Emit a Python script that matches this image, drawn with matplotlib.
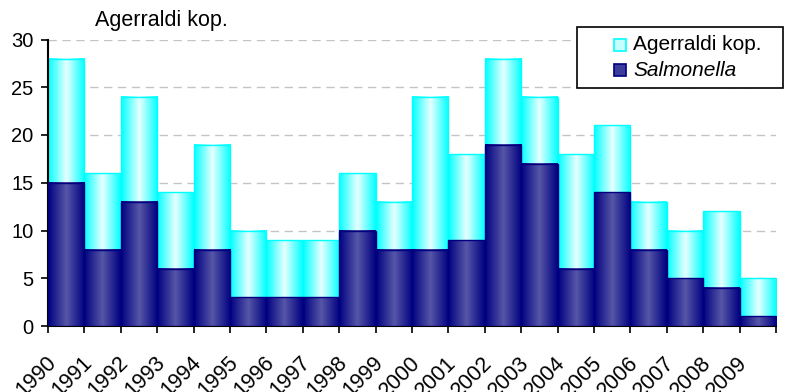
import numpy as np
import matplotlib
matplotlib.use("Agg")
import matplotlib.pyplot as plt
from matplotlib.colors import LinearSegmentedColormap
from matplotlib.patches import Rectangle
from matplotlib.transforms import ScaledTranslation

years = [str(y) for y in range(1990, 2010)]
total_cases = [28, 16, 24, 14, 19, 10, 9, 9, 16, 13, 24, 18, 28, 24, 18, 21, 13, 10, 12, 5]
salmonella = [15, 8, 13, 6, 8, 3, 3, 3, 10, 8, 8, 9, 19, 17, 6, 14, 8, 5, 4, 1]
yticks = [0, 5, 10, 15, 20, 25, 30]
series_names = ["Agerraldi kop.", "Salmonella"]

plt.rcParams['font.family'] = ['Liberation Sans', 'DejaVu Sans']

W, H = 785, 392
fig = plt.figure(figsize=(W / 100, H / 100), dpi=100)
ax = fig.add_axes([48 / W, 1 - 326 / H, (776 - 48) / W, (326 - 39.5) / H])

n = len(years)
x = np.arange(n)
width = 1.0


def gradient_cmap(edge, centre):
    return LinearSegmentedColormap.from_list("g", [edge, centre, edge])


cyan_cmap = gradient_cmap("#00FFFF", "#E6FFFF")
navy_cmap = gradient_cmap("#000080", "#5656A8")
ramp = np.linspace(0, 1, 256).reshape(1, -1)


def draw_bars(values, cmap, edge, z):
    for xi, v in zip(x, values):
        x0, x1 = xi - width / 2, xi + width / 2
        ax.imshow(ramp, extent=[x0, x1, 0, v], cmap=cmap, aspect="auto",
                  origin="lower", zorder=z, interpolation="bilinear")
    ax.bar(x, values, width=width, fill=False, edgecolor=edge,
           linewidth=1.0, zorder=z + 0.1)


draw_bars(total_cases, cyan_cmap, "#00FFFF", 2)
draw_bars(salmonella, navy_cmap, "#000080", 3)

ax.set_xlim(-0.5, n - 0.5)
ax.set_ylim(0, 30)
ax.set_yticks(yticks)
ax.yaxis.grid(True, linestyle=(0, (6, 4)), color="#C4C4C4", linewidth=1.0, zorder=0)
ax.set_axisbelow(True)

ax.set_xticks(x)
ax.set_xticklabels(years, rotation=45, ha="right", va="top", fontsize=15.5)
ax.set_xticks(np.arange(n + 1) - 0.5, minor=True)
ax.tick_params(axis="x", which="major", length=0, pad=19)
ax.tick_params(axis="x", which="minor", length=5, width=1.2, direction="out")
ax.tick_params(axis="y", length=5, width=1.2, labelsize=14.5, pad=5.5)
shift = ScaledTranslation(-6 / 100, 0, fig.dpi_scale_trans)
for lab in ax.get_xticklabels():
    lab.set_transform(lab.get_transform() + shift)

for s in ["top", "right"]:
    ax.spines[s].set_visible(False)
for s in ["left", "bottom"]:
    ax.spines[s].set_linewidth(1.5)

fig.text(95 / W, 1 - 20.5 / H, "Agerraldi kop.", fontsize=15.5, va="center", ha="left")

# legend box drawn in figure pixel coordinates
px = lambda v: v / W
py = lambda v: 1 - v / H
fig.patches.append(Rectangle((px(577), py(88)), px(783) - px(577), py(27) - py(88),
                             transform=fig.transFigure, facecolor="white",
                             edgecolor="black", linewidth=1.2, zorder=5))
swatches = [("#C8FFFF", "#00FFFF"), ("#3C3C9A", "#000080")]
for i, (name, (fc, ec)) in enumerate(zip(series_names, swatches)):
    yc = 45 + 25 * i
    fig.patches.append(Rectangle((px(614), py(yc + 6)), px(626) - px(614), py(yc - 6) - py(yc + 6),
                                 transform=fig.transFigure, facecolor=fc,
                                 edgecolor=ec, linewidth=1.2, zorder=6))
    fig.text(px(633), py(yc), name, fontsize=15, va="center", ha="left",
             style="italic" if i == 1 else "normal", zorder=6)

fig.savefig("out.png", dpi=100)
